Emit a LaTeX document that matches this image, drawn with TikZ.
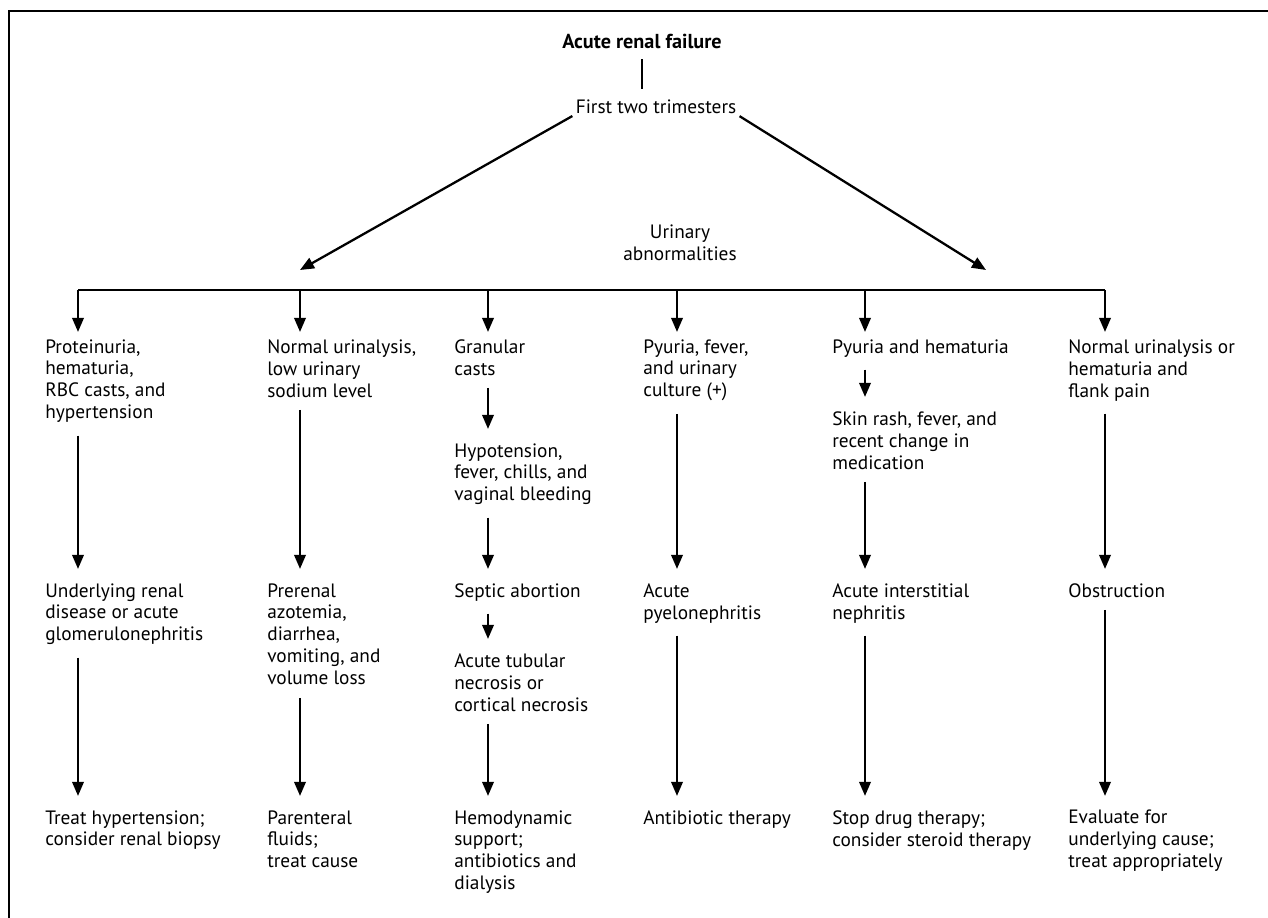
\documentclass[tikz,border=0pt]{standalone}
\usepackage{fontspec}
\setmainfont{PT Sans}
\usetikzlibrary{arrows.meta,positioning}

\begin{document}
\begin{tikzpicture}[x=0.02cm, y=-0.02cm,
  txt/.style   = {anchor=north west, align=left, inner sep=0pt,
                  font=\fontsize{11}{12.5}\selectfont},
  mid/.style   = {align=center, inner sep=0pt,
                  font=\fontsize{11}{12.5}\selectfont},
  head/.style  = {inner sep=0pt, font=\fontsize{11.5}{13}\selectfont\bfseries},
  link/.style  = {line width=1.3pt},
  arrow/.style = {line width=1.3pt, -{Triangle[length=8pt,width=6.5pt]}},
  gap/.style   = {shorten <=7pt, shorten >=8pt},
  frame/.style = {line width=1.5pt},
]
  \useasboundingbox (0,0) rectangle (1268,918);

  % the box round the chart: only its left and top sides fall in the picture
  \coordinate (fbl) at (9,918);
  \coordinate (ftl) at (9,11);
  \coordinate (ftr) at (1268,11);
  \draw[frame] (fbl) -- (ftl) -- (ftr);

  \node[head] (arf) at (642,41) {Acute renal failure};
  \node[mid] (ftt) at (656,107) {First two trimesters};
  \node[mid] (ua) at (680,243) {Urinary\\abnormalities};
  \draw[link, shorten <=6pt, shorten >=6pt] (arf.south) -- (arf.south |- ftt.north);

  \coordinate (lt) at (300,270);
  \coordinate (rt) at (986,270);
  \draw[arrow, shorten <=2pt] (ftt.south west) -- (lt);
  \draw[arrow, shorten <=2pt] (ftt.south east) -- (rt);

  % the bar and the six columns
  \coordinate (c1) at (78,290);
  \coordinate (c2) at (300,290);
  \coordinate (c3) at (488,290);
  \coordinate (c4) at (677,290);
  \coordinate (c5) at (865,290);
  \coordinate (c6) at (1105,290);
  \draw[link] (c1) -- (c6);

  \node[txt] (p1) at (45,339) {Proteinuria,\\hematuria,\\RBC casts, and\\hypertension};
  \node[txt] (u1) at (45,583) {Underlying renal\\disease or acute\\glomerulonephritis};
  \node[txt] (t1) at (45,810) {Treat hypertension;\\consider renal biopsy};

  \node[txt] (p2) at (267,339) {Normal urinalysis,\\low urinary\\sodium level};
  \node[txt] (u2) at (267,583) {Prerenal\\azotemia,\\diarrhea,\\vomiting, and\\volume loss};
  \node[txt] (t2) at (267,810) {Parenteral\\fluids;\\treat cause};

  \node[txt] (p3) at (454,339) {Granular\\casts};
  \node[txt] (h3) at (454,443) {Hypotension,\\fever, chills, and\\vaginal bleeding};
  \node[txt] (u3) at (454,583) {Septic abortion};
  \node[txt] (n3) at (454,653) {Acute tubular\\necrosis or\\cortical necrosis};
  \node[txt] (t3) at (454,810) {Hemodynamic\\support;\\antibiotics and\\dialysis};

  \node[txt] (p4) at (643,339) {Pyuria, fever,\\and urinary\\culture (+)};
  \node[txt] (u4) at (643,583) {Acute\\pyelonephritis};
  \node[txt] (t4) at (643,810) {Antibiotic therapy};

  \node[txt] (p5) at (832,339) {Pyuria and hematuria};
  \node[txt] (s5) at (832,411) {Skin rash, fever, and\\recent change in\\medication};
  \node[txt] (u5) at (832,583) {Acute interstitial\\nephritis};
  \node[txt] (t5) at (832,810) {Stop drug therapy;\\consider steroid therapy};

  \node[txt] (p6) at (1068,339) {Normal urinalysis or\\hematuria and\\flank pain};
  \node[txt] (u6) at (1068,583) {Obstruction};
  \node[txt] (t6) at (1068,810) {Evaluate for\\underlying cause;\\treat appropriately};

  \draw[arrow, shorten >=4pt] (c1) -- (p1.north -| c1);
  \draw[arrow, shorten >=4pt] (c2) -- (p2.north -| c2);
  \draw[arrow, shorten >=4pt] (c3) -- (p3.north -| c3);
  \draw[arrow, shorten >=4pt] (c4) -- (p4.north -| c4);
  \draw[arrow, shorten >=4pt] (c5) -- (p5.north -| c5);
  \draw[arrow, shorten >=4pt] (c6) -- (p6.north -| c6);

  \draw[arrow, gap] (p1.south -| c1) -- (u1.north -| c1);
  \draw[arrow, gap] (u1.south -| c1) -- (t1.north -| c1);
  \draw[arrow, gap] (p2.south -| c2) -- (u2.north -| c2);
  \draw[arrow, gap] (u2.south -| c2) -- (t2.north -| c2);
  \draw[arrow, gap] (p3.south -| c3) -- (h3.north -| c3);
  \draw[arrow, gap] (h3.south -| c3) -- (u3.north -| c3);
  \draw[arrow, gap] (u3.south -| c3) -- (n3.north -| c3);
  \draw[arrow, gap] (n3.south -| c3) -- (t3.north -| c3);
  \draw[arrow, gap] (p4.south -| c4) -- (u4.north -| c4);
  \draw[arrow, gap] (u4.south -| c4) -- (t4.north -| c4);
  \draw[arrow, gap] (p5.south -| c5) -- (s5.north -| c5);
  \draw[arrow, gap] (s5.south -| c5) -- (u5.north -| c5);
  \draw[arrow, gap] (u5.south -| c5) -- (t5.north -| c5);
  \draw[arrow, gap] (p6.south -| c6) -- (u6.north -| c6);
  \draw[arrow, gap] (u6.south -| c6) -- (t6.north -| c6);
\end{tikzpicture}
\end{document}
